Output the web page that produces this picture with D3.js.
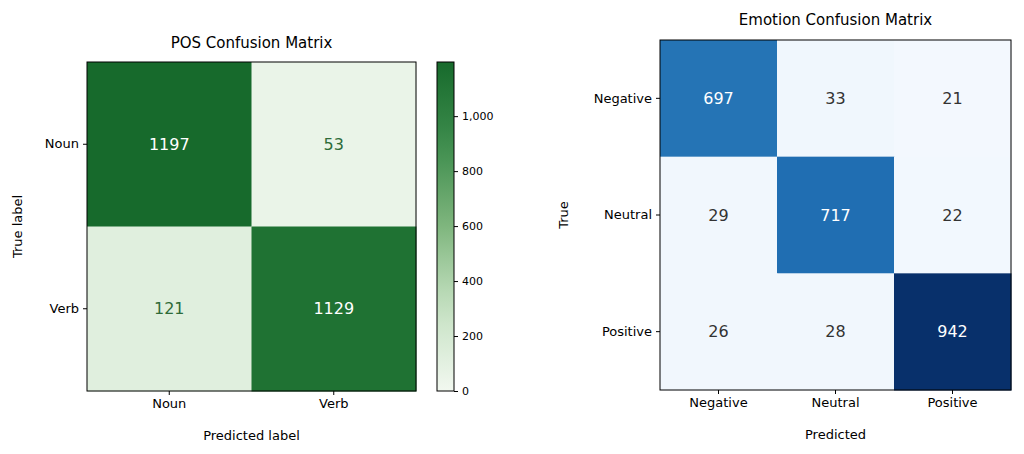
<!DOCTYPE html>
<html><head><meta charset="utf-8">
<script src="https://cdn.jsdelivr.net/npm/d3@7"></script>
<style>body{margin:0;background:#fff}text{font-family:"DejaVu Sans",sans-serif}</style>
</head><body>
<svg id="c" width="1024" height="454"></svg>
<script>
var posLabels = ['Noun', 'Verb'];
var posMatrix = [[1197, 53], [121, 1129]];
var posTicks = [0, 200, 400, 600, 800, 1000];
var emoLabels = ['Negative', 'Neutral', 'Positive'];
var emoMatrix = [[697, 33, 21], [29, 717, 22], [26, 28, 942]];

var svg = d3.select('#c');

function cells(g, m, x, y, color, textColor) {
  var data = [];
  m.forEach(function(r, i) { r.forEach(function(v, j) { data.push({i: i, j: j, v: v}); }); });
  g.selectAll('rect.cell').data(data).enter().append('rect')
    .attr('x', function(d) { return x(d.j); })
    .attr('y', function(d) { return y(d.i); })
    .attr('width', x.bandwidth() + 0.5).attr('height', y.bandwidth() + 0.5)
    .attr('fill', function(d) { return color(d.v); });
  g.selectAll('text.val').data(data).enter().append('text')
    .attr('x', function(d) { return x(d.j) + x.bandwidth() / 2; })
    .attr('y', function(d) { return y(d.i) + y.bandwidth() / 2; })
    .attr('dy', '0.35em').attr('text-anchor', 'middle').attr('font-size', 16)
    .attr('fill', textColor).text(function(d) { return d.v; });
}

function frame(g, x0, y0, w, h) {
  g.append('rect').attr('x', x0).attr('y', y0).attr('width', w).attr('height', h)
    .attr('fill', 'none').attr('stroke', '#000').attr('stroke-width', 1);
}

function axes(g, x, y, x0, y1) {
  var ax = g.append('g').attr('transform', 'translate(0,' + y1 + ')')
    .call(d3.axisBottom(x).tickSize(4).tickPadding(4));
  var ay = g.append('g').attr('transform', 'translate(' + x0 + ',0)')
    .call(d3.axisLeft(y).tickSize(4).tickPadding(4));
  [ax, ay].forEach(function(a) {
    a.select('.domain').remove();
    a.selectAll('text').attr('font-size', 13).attr('fill', '#000').style('font-family', 'DejaVu Sans');
  });
}

// left: POS
var lx = d3.scaleBand().domain([0, 1]).range([87, 416]);
var ly = d3.scaleBand().domain([0, 1]).range([62, 391]);
var gColor = d3.scaleLinear().domain([0, 300, 600, 900, 1197])
  .range(['#f2f8f0', '#c6e2c3', '#7fb67e', '#3c8c4c', '#176a2c']);
var gl = svg.append('g');
cells(gl, posMatrix, lx, ly, gColor, function(d) { return d.v > 600 ? '#fff' : '#2e6b39'; });
frame(gl, 87, 62, 329, 329);
axes(gl, lx.copy().domain(posLabels), ly.copy().domain(posLabels), 87, 391);
gl.append('text').attr('x', 251.5).attr('y', 48).attr('text-anchor', 'middle').attr('font-size', 15).text('POS Confusion Matrix');
gl.append('text').attr('x', 251.5).attr('y', 440).attr('text-anchor', 'middle').attr('font-size', 13).text('Predicted label');
gl.append('text').attr('transform', 'translate(22,226.5) rotate(-90)').attr('text-anchor', 'middle').attr('font-size', 13).text('True label');

// colorbar
var cb = d3.scaleLinear().domain([0, 1197]).range([391, 62]);
var defs = svg.append('defs');
var grad = defs.append('linearGradient').attr('id', 'gg').attr('x1', 0).attr('y1', 1).attr('x2', 0).attr('y2', 0);
d3.range(0, 1.01, 0.1).forEach(function(t) {
  grad.append('stop').attr('offset', t).attr('stop-color', gColor(t * 1197));
});
svg.append('rect').attr('x', 437).attr('y', 62).attr('width', 17).attr('height', 329).attr('fill', 'url(#gg)').attr('stroke', '#000');
var cax = svg.append('g').attr('transform', 'translate(454,0)')
  .call(d3.axisRight(cb).tickValues(posTicks).tickSize(4).tickPadding(4));
cax.select('.domain').remove();
cax.selectAll('text').attr('font-size', 11).attr('fill', '#000').style('font-family', 'DejaVu Sans');

// right: Emotion
var rx = d3.scaleBand().domain([0, 1, 2]).range([660, 1011]);
var ry = d3.scaleBand().domain([0, 1, 2]).range([40, 390]);
var bColor = function(v) { return d3.interpolateBlues(v / 942); };
var gr = svg.append('g');
cells(gr, emoMatrix, rx, ry, bColor, function(d) { return d.v > 470 ? '#fff' : '#333'; });
frame(gr, 660, 40, 351, 350);
axes(gr, rx.copy().domain(emoLabels), ry.copy().domain(emoLabels), 660, 390);
gr.append('text').attr('x', 835.5).attr('y', 25).attr('text-anchor', 'middle').attr('font-size', 15).text('Emotion Confusion Matrix');
gr.append('text').attr('x', 835.5).attr('y', 439).attr('text-anchor', 'middle').attr('font-size', 13).text('Predicted');
gr.append('text').attr('transform', 'translate(568,215) rotate(-90)').attr('text-anchor', 'middle').attr('font-size', 13).text('True');
</script>
</body></html>
